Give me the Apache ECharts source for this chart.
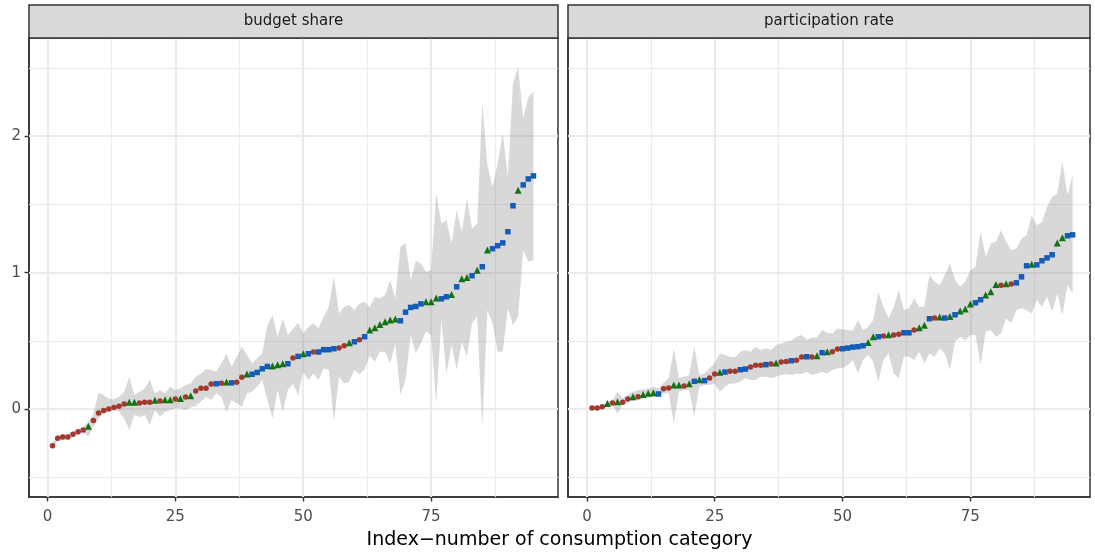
<!DOCTYPE html>
<html><head><meta charset="utf-8">
<script src="https://cdn.jsdelivr.net/npm/echarts@6/dist/echarts.min.js"></script>
<style>html,body{margin:0;padding:0;background:#fff}#c{width:1095px;height:557px}</style>
</head><body><div id="c"></div>
<script>
const panelTitles = ['budget share', 'participation rate'];
const xTickValues = [0, 25, 50, 75];
const yTickValues = [0, 1, 2];
const xMinor = [12.5, 37.5, 62.5, 87.5];
const yMinor = [-0.5, 0.5, 1.5, 2.5];
const xTitle = 'Index\u2212number of consumption category';

const budgetGroup = [
 'r','r','r','r','r','r','r','g','r','r',
 'r','r','r','r','r','g','g','r','r','r',
 'g','r','g','g','r','g','r','g','r','r',
 'r','r','b','r','g','b','r','r','g','b',
 'b','b','b','g','g','g','b','r','b','g',
 'b','r','b','b','b','b','r','r','g','b',
 'r','b','g','g','g','g','g','g','b','b',
 'b','b','b','g','g','g','b','b','g','b',
 'g','g','b','g','b','g','b','b','b','b',
 'b','g','b','b','b'];
const budgetValue = [
 -0.27,-0.215,-0.205,-0.205,-0.185,-0.166,-0.154,-0.127,-0.085,-0.03,
 -0.01,0.0,0.012,0.02,0.037,0.049,0.05,0.044,0.05,0.05,
 0.064,0.058,0.068,0.068,0.073,0.078,0.088,0.098,0.132,0.152,
 0.152,0.184,0.185,0.189,0.198,0.192,0.196,0.233,0.256,0.255,
 0.268,0.295,0.312,0.315,0.325,0.332,0.332,0.374,0.386,0.405,
 0.405,0.418,0.418,0.435,0.435,0.442,0.447,0.464,0.486,0.493,
 0.507,0.53,0.579,0.596,0.62,0.64,0.652,0.66,0.647,0.71,
 0.745,0.752,0.771,0.786,0.786,0.813,0.808,0.823,0.84,0.896,
 0.955,0.965,0.977,1.018,1.043,1.165,1.175,1.197,1.218,1.3,
 1.49,1.604,1.643,1.687,1.709];
const budgetLower = [
 -0.29,-0.235,-0.225,-0.225,-0.205,-0.186,-0.174,-0.203,-0.13,-0.068,
 -0.032,-0.02,-0.007,-0.02,-0.068,-0.154,-0.044,-0.061,-0.044,-0.117,
 -0.007,-0.056,-0.02,-0.007,0.005,0.005,-0.007,0.012,0.022,0.053,
 0.09,0.066,0.115,0.09,-0.02,0.066,0.042,0.017,0.115,0.127,
 0.164,0.212,0.066,-0.068,0.139,-0.02,0.139,0.188,0.103,0.273,
 0.212,0.261,0.212,0.298,0.286,-0.093,0.237,0.188,0.2,0.286,
 0.255,0.292,0.39,0.347,0.42,0.42,0.335,0.481,0.103,0.212,
 0.542,0.408,0.481,0.566,0.542,0.042,0.652,0.261,0.469,0.286,
 0.493,0.383,0.628,0.676,-0.142,0.725,0.628,0.42,0.42,0.738,
 0.615,0.676,1.165,1.079,1.092];
const budgetUpper = [
 -0.25,-0.195,-0.185,-0.185,-0.165,-0.146,-0.134,-0.093,-0.032,0.12,
 0.103,0.078,0.071,0.09,0.127,0.237,0.103,0.127,0.151,0.212,
 0.115,0.139,0.115,0.164,0.139,0.151,0.176,0.188,0.237,0.261,
 0.293,0.286,0.273,0.335,0.403,0.31,0.383,0.457,0.396,0.335,
 0.371,0.408,0.615,0.689,0.53,0.664,0.542,0.591,0.632,0.554,
 0.603,0.628,0.591,0.676,0.75,0.974,0.701,0.75,0.762,0.725,
 0.774,0.786,0.745,0.823,0.811,0.835,0.945,0.811,1.189,1.218,
 0.945,1.087,1.067,1.006,1.018,1.58,1.36,1.385,1.214,1.458,
 1.299,1.543,1.323,1.36,2.239,1.788,1.629,1.8,2.02,1.702,
 2.386,2.508,2.13,2.288,2.325];

const partGroup = [
 'r','r','r','g','r','g','r','r','g','r',
 'g','g','g','b','r','r','g','g','r','g',
 'b','g','b','r','r','g','b','r','r','b',
 'b','r','r','r','b','r','g','r','r','b',
 'r','r','b','r','g','b','g','r','r','b',
 'b','b','b','b','g','g','b','r','g','r',
 'r','b','b','r','g','g','b','r','g','b',
 'g','b','g','g','g','b','b','g','g','g',
 'r','g','r','b','b','b','g','b','b','b',
 'b','g','g','b','b'];
const partValue = [
 0.007,0.007,0.017,0.041,0.044,0.054,0.049,0.073,0.09,0.09,
 0.107,0.115,0.12,0.11,0.149,0.154,0.176,0.176,0.168,0.186,
 0.203,0.215,0.208,0.227,0.256,0.269,0.271,0.276,0.276,0.288,
 0.293,0.308,0.32,0.32,0.325,0.33,0.337,0.344,0.349,0.354,
 0.357,0.381,0.383,0.381,0.391,0.413,0.419,0.419,0.44,0.442,
 0.447,0.454,0.457,0.464,0.488,0.53,0.53,0.535,0.545,0.542,
 0.549,0.559,0.559,0.579,0.596,0.615,0.662,0.667,0.674,0.667,
 0.679,0.691,0.718,0.733,0.769,0.779,0.801,0.835,0.859,0.913,
 0.908,0.918,0.916,0.925,0.969,1.05,1.062,1.057,1.087,1.108,
 1.131,1.218,1.255,1.27,1.277];
const partLower = [
 -0.003,-0.003,-0.002,0.017,0.029,-0.032,0.029,0.054,0.061,0.066,
 0.078,0.083,0.09,0.09,0.115,0.115,-0.105,0.127,0.139,0.139,
 -0.051,0.164,0.176,0.176,0.188,0.127,0.164,0.188,0.188,0.2,
 0.225,0.212,0.212,0.237,0.237,0.225,0.237,0.249,0.256,0.249,
 0.261,0.256,0.273,0.249,0.261,0.273,0.26,0.286,0.298,0.298,
 0.322,0.359,0.261,0.359,0.396,0.347,0.2,0.359,0.408,0.261,
 0.225,0.383,0.383,0.359,0.42,0.335,0.408,0.383,0.444,0.408,
 0.286,0.493,0.53,0.505,0.542,0.542,0.322,0.566,0.579,0.53,
 0.554,0.664,0.628,0.725,0.738,0.725,0.701,0.799,0.75,0.823,
 0.713,0.847,0.689,0.908,0.847];
const partUpper = [
 0.017,0.017,0.017,0.054,0.066,0.127,0.078,0.103,0.127,0.139,
 0.144,0.151,0.164,0.151,0.193,0.225,0.445,0.225,0.237,0.249,
 0.457,0.249,0.261,0.298,0.335,0.408,0.396,0.383,0.379,0.42,
 0.432,0.42,0.457,0.432,0.445,0.432,0.469,0.481,0.493,0.505,
 0.53,0.542,0.51,0.525,0.525,0.579,0.56,0.554,0.591,0.584,
 0.579,0.574,0.652,0.579,0.603,0.652,0.859,0.75,0.664,0.75,
 0.872,0.725,0.738,0.811,0.75,0.75,0.982,0.933,0.908,0.982,
 1.067,0.945,0.896,0.933,1.018,1.043,1.299,1.116,1.214,1.226,
 1.311,1.226,1.165,1.177,1.25,1.275,1.421,1.348,1.372,1.482,
 1.555,1.58,1.812,1.568,1.714];

const FONT = 'DejaVu Sans';
const groupStyle = {
  r: {symbol: 'circle', size: 5.5, color: '#A3382C'},
  g: {symbol: 'triangle', size: 7, color: '#137213'},
  b: {symbol: 'rect', size: 5.5, color: '#135DB8'}
};
const panelData = [
  {group: budgetGroup, value: budgetValue, lower: budgetLower, upper: budgetUpper, xMin: -3.6, xMax: 99.8},
  {group: partGroup, value: partValue, lower: partLower, upper: partUpper, xMin: -3.7, xMax: 98.4}
];
const gridBoxes = [
  {left: 29, top: 38, width: 529, height: 459},
  {left: 568, top: 38, width: 522, height: 459}
];

const grids = [], xAxes = [], yAxes = [], series = [], graphics = [];
panelData.forEach((p, k) => {
  const g = gridBoxes[k];
  grids.push(Object.assign({show: true, borderColor: '#333333', borderWidth: 1.5, backgroundColor: '#ffffff', containLabel: false}, g));
  xAxes.push({
    type: 'value', gridIndex: k, min: p.xMin, max: p.xMax,
    axisLine: {show: true, onZero: false, lineStyle: {color: '#333333', width: 1.5}},
    axisTick: {show: true, inside: false, customValues: xTickValues, length: 4.5, lineStyle: {color: '#333333', width: 1.4}},
    axisLabel: {customValues: xTickValues, color: '#4D4D4D', fontSize: 15, fontFamily: FONT, margin: 13},
    splitLine: {show: false}
  });
  yAxes.push({
    type: 'value', gridIndex: k, min: -0.645, max: 2.72,
    axisLine: {show: true, onZero: false, lineStyle: {color: '#333333', width: 1.5}},
    axisTick: {show: k === 0, inside: false, customValues: yTickValues, length: 4.5, lineStyle: {color: '#333333', width: 1.4}},
    axisLabel: {show: k === 0, customValues: yTickValues, color: '#4D4D4D', fontSize: 15, fontFamily: FONT, margin: 8},
    splitLine: {show: false}
  });
  const idx = p.value.map((v, i) => i + 1);
  const gridLines = [];
  xTickValues.forEach(v => gridLines.push({xAxis: v, lineStyle: {color: '#EBEBEB', width: 2.2, type: 'solid'}}));
  xMinor.forEach(v => gridLines.push({xAxis: v, lineStyle: {color: '#EBEBEB', width: 1.1, type: 'solid'}}));
  yTickValues.forEach(v => gridLines.push({yAxis: v, lineStyle: {color: '#EBEBEB', width: 2.2, type: 'solid'}}));
  yMinor.forEach(v => gridLines.push({yAxis: v, lineStyle: {color: '#EBEBEB', width: 1.1, type: 'solid'}}));
  series.push({
    type: 'scatter', xAxisIndex: k, yAxisIndex: k, data: [], z: 1, silent: true,
    markLine: {silent: true, z: 1, symbol: ['none', 'none'], label: {show: false}, animation: false, data: gridLines}
  });
  const bandData = idx.map(i => [i, p.lower[i - 1], p.upper[i - 1]]);
  series.push({
    type: 'custom', xAxisIndex: k, yAxisIndex: k, z: 2, silent: true,
    data: bandData,
    encode: {x: 0, y: [1, 2]},
    renderItem: function (params, api) {
      if (params.dataIndex !== 0) return null;
      const top = [], bot = [];
      for (let j = 0; j < bandData.length; j++) {
        top.push(api.coord([bandData[j][0], bandData[j][2]]));
        bot.push(api.coord([bandData[j][0], bandData[j][1]]));
      }
      const pts = top.concat(bot.reverse());
      return {type: 'polygon', shape: {points: pts}, style: {fill: 'rgba(127,127,127,0.3)', stroke: null}};
    }
  });
  ['r', 'g', 'b'].forEach(gk => {
    const st = groupStyle[gk];
    series.push({
      type: 'scatter', xAxisIndex: k, yAxisIndex: k, z: 3,
      symbol: st.symbol, symbolSize: st.size, itemStyle: {color: st.color, opacity: 1},
      data: idx.filter(i => p.group[i - 1] === gk).map(i => [i, p.value[i - 1]])
    });
  });
  graphics.push({
    type: 'rect', shape: {x: g.left, y: 5, width: g.width, height: 33},
    style: {fill: '#D9D9D9', stroke: '#333333', lineWidth: 1.5}, z: 10
  });
  graphics.push({
    type: 'text', x: g.left + g.width / 2, y: 21.5,
    style: {text: panelTitles[k], fill: '#1A1A1A', font: '15px "' + FONT + '"', textAlign: 'center', textVerticalAlign: 'middle'}, z: 11
  });
});
graphics.push({
  type: 'text', x: 559.5, y: 540,
  style: {text: xTitle, fill: '#000000', font: '19px "' + FONT + '"', textAlign: 'center', textVerticalAlign: 'middle'}, z: 11
});

const chart = echarts.init(document.getElementById('c'), null, {renderer: 'canvas'});
chart.setOption({
  animation: false,
  backgroundColor: '#ffffff',
  grid: grids, xAxis: xAxes, yAxis: yAxes, series: series, graphic: graphics
});
</script></body></html>
